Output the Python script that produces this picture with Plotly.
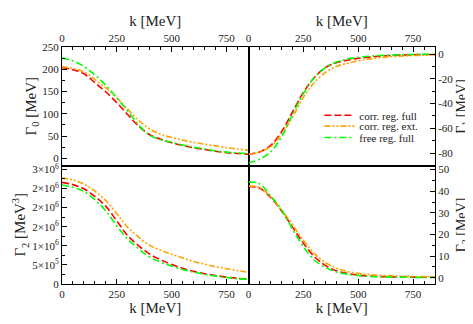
import plotly.graph_objects as go
from plotly.subplots import make_subplots

# momentum grid [MeV]
k = [0, 50, 100, 150, 200, 250, 300, 350, 400, 450, 500, 550, 600, 650, 700, 750, 800, 850]

# Gamma_0 [MeV]
g0_corr_full = [204, 199, 190, 170, 149, 125, 98, 72, 53, 43, 35, 29, 24, 20, 16, 13, 11, 9]
g0_corr_ext = [206, 202, 194, 177, 158, 136, 110, 85, 66, 54, 47, 41, 36, 32, 28, 24, 21, 18]
g0_free_full = [225, 219, 206, 187, 164, 136, 106, 75, 52, 42, 36, 30, 25, 21, 17, 14, 12, 11]

# Gamma_1 [MeV]
g1_corr_full = [-81, -79, -74, -63, -47, -31, -19, -11, -7, -5, -3.5, -2.5, -1.7, -1.2, -0.8, -0.6, -0.4, -0.3]
g1_corr_ext = [-81, -79, -75, -65, -51, -35, -23, -15, -10, -7.5, -5.5, -4, -3, -2.2, -1.6, -1.2, -0.9, -0.6]
g1_free_full = [-88, -85, -79, -67, -49, -32, -19, -11, -6.5, -4, -2.7, -1.8, -1.2, -0.8, -0.5, -0.3, -0.2, -0.1]

# Gamma_2 [MeV^3]
g2_corr_full = [2.66e6, 2.60e6, 2.49e6, 2.29e6, 2.03e6, 1.65e6, 1.26e6, 1.00e6, 0.78e6, 0.63e6,
                0.51e6, 0.41e6, 0.33e6, 0.27e6, 0.22e6, 0.18e6, 0.15e6, 0.12e6]
g2_corr_ext = [2.77e6, 2.72e6, 2.61e6, 2.43e6, 2.18e6, 1.84e6, 1.48e6, 1.22e6, 1.01e6, 0.88e6,
               0.78e6, 0.68e6, 0.59e6, 0.52e6, 0.45e6, 0.40e6, 0.35e6, 0.31e6]
g2_free_full = [2.59e6, 2.53e6, 2.42e6, 2.20e6, 1.91e6, 1.52e6, 1.17e6, 0.92e6, 0.70e6, 0.57e6,
                0.47e6, 0.38e6, 0.31e6, 0.25e6, 0.21e6, 0.17e6, 0.14e6, 0.12e6]

# Gamma_3 [MeV]
g3_corr_full = [42.2, 41.5, 37.2, 31, 23.5, 16, 9.8, 5.7, 3.2, 2, 1.2, 0.8, 0.5, 0.4, 0.3, 0.3, 0.2, 0.2]
g3_corr_ext = [42.5, 41.8, 37.5, 31.5, 24.7, 17.3, 11.2, 7, 4.4, 2.9, 2, 1.5, 1.1, 0.9, 0.7, 0.6, 0.5, 0.4]
g3_free_full = [44.2, 43.5, 38, 31.5, 22.6, 14.4, 8.2, 4.8, 2.7, 1.6, 1, 0.6, 0.4, 0.3, 0.2, 0.2, 0.1, 0.1]

series_names = ["corr. reg. full", "corr. reg. ext.", "free reg. full"]
series_colors = ["#ff0000", "#ffa500", "#00ff00"]
series_dash = ["7px,3px", "6px,2px,2px,2px,2px,2px", "7px,3px,2px,3px"]

k_ticks = [0, 250, 500, 750]
g1_tickvals = [-80, -60, -40, -20, 0]
g1_ticktext = ["-80", "-60", "-40", "-20", "0"]
g2_tickvals = [0, 0.5e6, 1e6, 1.5e6, 2e6, 2.5e6, 3e6]
g2_ticktext = ["0", "5×10<sup>5</sup>", "1×10<sup>6</sup>", "2×10<sup>6</sup>",
               "2×10<sup>6</sup>", "2×10<sup>6</sup>", "3×10<sup>6</sup>"]

FONT = "'Liberation Serif', 'DejaVu Serif', 'Times New Roman', serif"

fig = make_subplots(rows=2, cols=2, horizontal_spacing=0, vertical_spacing=0)

panels = [
    (1, 1, [g0_corr_full, g0_corr_ext, g0_free_full]),
    (1, 2, [g1_corr_full, g1_corr_ext, g1_free_full]),
    (2, 1, [g2_corr_full, g2_corr_ext, g2_free_full]),
    (2, 2, [g3_corr_full, g3_corr_ext, g3_free_full]),
]

# one small legend per series so rows can sit tighter than plotly's default spacing
legend_ids = ["legend", "legend2", "legend3"]

for row, col, ys in panels:
    for i, y in enumerate(ys):
        fig.add_trace(go.Scatter(
            x=k, y=y, mode="lines", line_shape="spline",
            line=dict(color=series_colors[i], width=1.6, dash=series_dash[i]),
            name=series_names[i],
            legend=legend_ids[i],
            showlegend=(row == 1 and col == 2),
        ), row=row, col=col)

axis_common = dict(
    showline=True, linecolor="black", linewidth=1, mirror=True,
    ticks="inside", ticklen=5, tickwidth=1, tickcolor="black",
    showgrid=False, zeroline=False,
    tickfont=dict(family=FONT, size=11, color="#222"),
)

title_font = dict(family=FONT, size=15, color="#222")

for row in (1, 2):
    for col in (1, 2):
        fig.update_xaxes(
            range=[0, 850], tickvals=k_ticks,
            minor=dict(dtick=50, tick0=0, ticks="inside", ticklen=3, tickcolor="black"),
            side="top" if row == 1 else "bottom",
            title=dict(text="k [MeV]", font=title_font, standoff=1),
            row=row, col=col, **axis_common)

fig.update_yaxes(range=[-16, 250], tickvals=[0, 50, 100, 150, 200, 250],
                 minor=dict(tickvals=[25, 75, 125, 175, 225], ticks="inside", ticklen=3, tickcolor="black"),
                 title=dict(text="Γ<sub>0</sub> [MeV]", font=title_font, standoff=2),
                 row=1, col=1, **axis_common)
fig.update_yaxes(range=[-90, 5.7], tickvals=g1_tickvals, ticktext=g1_ticktext,
                 minor=dict(tickvals=[-90, -70, -50, -30, -10], ticks="inside", ticklen=3, tickcolor="black"),
                 side="right",
                 row=1, col=2, **axis_common)
fig.update_yaxes(range=[0, 3.1e6], tickvals=g2_tickvals, ticktext=g2_ticktext,
                 minor=dict(tickvals=[0.25e6, 0.75e6, 1.25e6, 1.75e6, 2.25e6, 2.75e6], ticks="inside",
                            ticklen=3, tickcolor="black"),
                 title=dict(text="Γ<sub>2</sub> [MeV<sup>3</sup>]", font=title_font, standoff=2),
                 row=2, col=1, **axis_common)
fig.update_yaxes(range=[-2.9, 51.9], tickvals=[0, 10, 20, 30, 40, 50],
                 minor=dict(tickvals=[5, 15, 25, 35, 45], ticks="inside", ticklen=3, tickcolor="black"),
                 side="right",
                 row=2, col=2, **axis_common)

# right-hand y titles as rotated annotations
for text, ymid in [("Γ<sub>1</sub> [MeV]", 0.75), ("Γ<sub>3</sub> [MeV]", 0.25)]:
    fig.add_annotation(
        text=text, textangle=-90, showarrow=False,
        xref="paper", x=1, xanchor="left", xshift=17,
        yref="paper", y=ymid, yanchor="middle",
        font=dict(family=FONT, size=14, color="#222"),
    )

legend_common = dict(
    x=0.690, xanchor="left", yanchor="middle",
    bgcolor="rgba(0,0,0,0)", borderwidth=0,
    font=dict(family=FONT, size=11, color="#222"),
    itemwidth=30,
)

# the page body adds an 8px margin, so the figure is 8px smaller than the window
fig.update_layout(
    width=465, height=316,
    margin=dict(l=47, r=38, t=20, b=29),
    plot_bgcolor="white", paper_bgcolor="white",
    font=dict(family=FONT, color="#222"),
    legend=dict(y=0.712, **legend_common),
    legend2=dict(y=0.666, **legend_common),
    legend3=dict(y=0.618, **legend_common),
)

fig.write_html("out.html")
